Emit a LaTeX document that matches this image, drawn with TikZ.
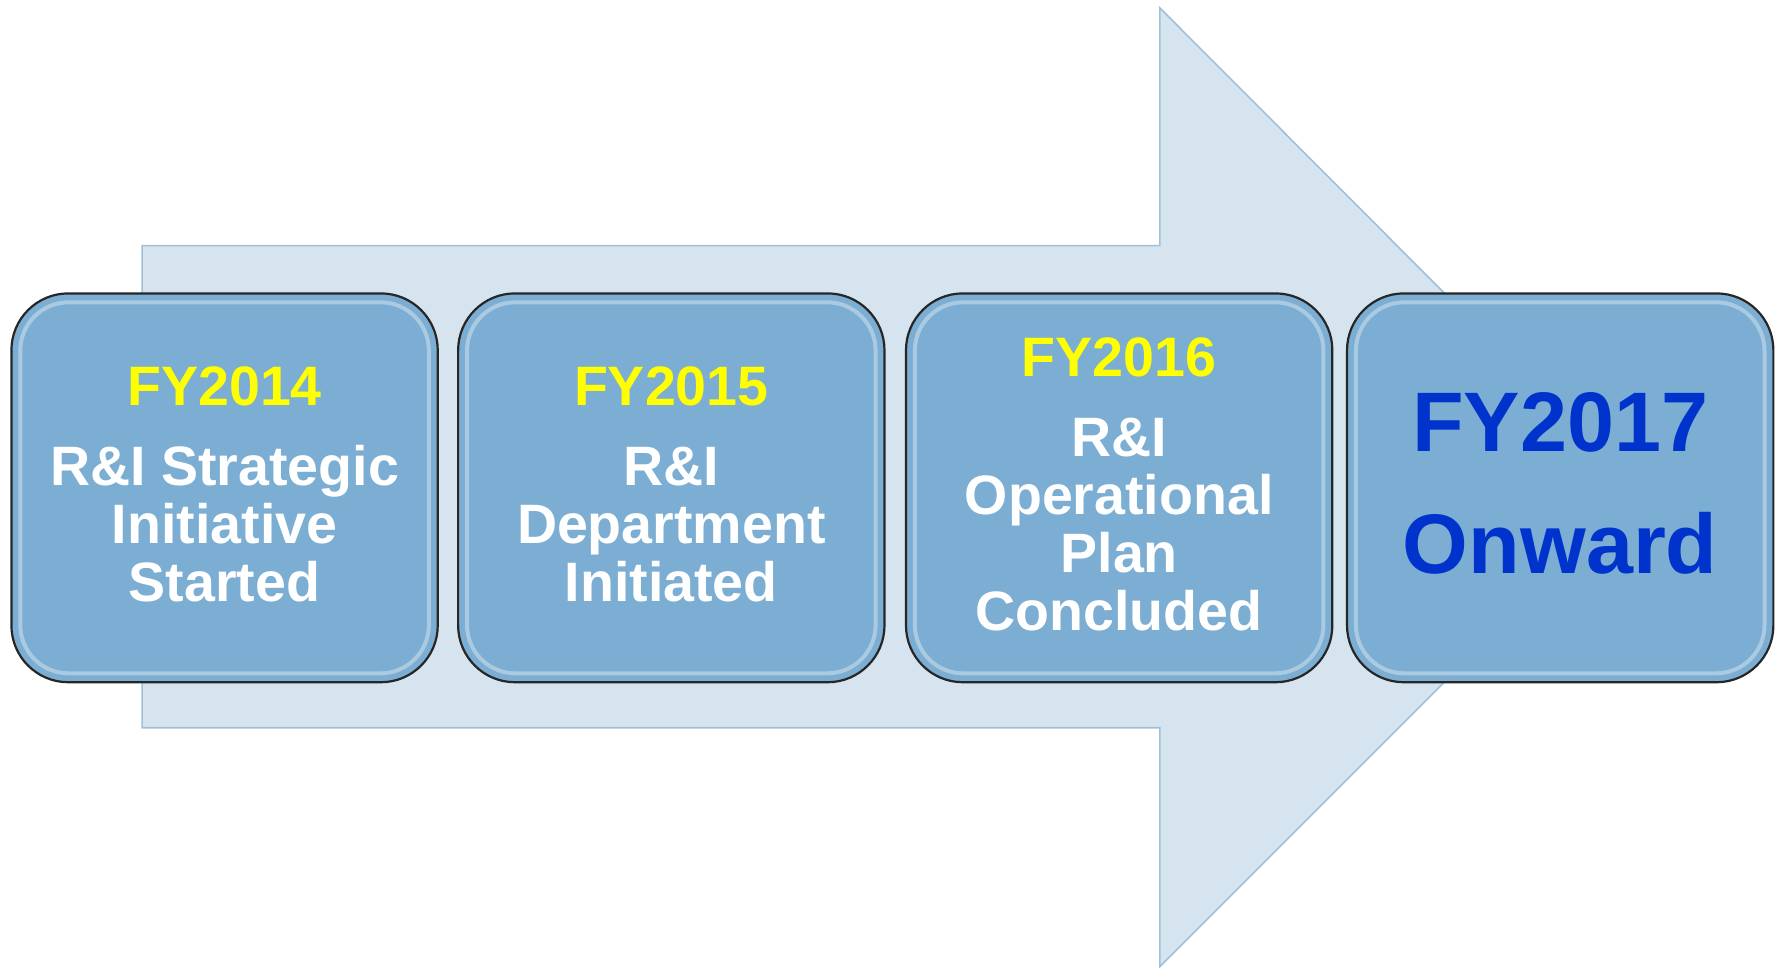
\documentclass[tikz,border=0pt]{standalone}
\usepackage{fontspec}
\setmainfont{Liberation Sans}
\usetikzlibrary{positioning}

\definecolor{arrowfill}{RGB}{214,228,240}
\definecolor{arrowline}{RGB}{160,192,218}
\definecolor{boxfill}{RGB}{123,174,210}
\definecolor{yearblue}{RGB}{0,51,204}
\definecolor{yearyellow}{RGB}{255,255,0}

\begin{document}
\begin{tikzpicture}[x=0.02cm, y=-0.02cm, node distance=0.32cm]
  \tikzset{stage/.style={draw=black!85, line width=1.1pt, fill=boxfill, rounded corners=1cm, minimum width=7.5cm, minimum height=6.84cm}}
  \tikzset{stagetext/.style={align=center, text=white, font=\bfseries\fontsize{27.8}{29}\selectfont}}
  \tikzset{rim/.style={draw=white, opacity=0.35, line width=2pt, rounded corners=0.85cm}}
  \tikzset{bigyear/.style={align=center, text=yearblue, font=\bfseries\fontsize{42.3}{61}\selectfont}}

  \useasboundingbox (0,0) rectangle (1568,851);

  % big arrow behind the stages
  \filldraw[fill=arrowfill, draw=arrowline, line width=0.8pt] (125,216) -- (1020,216) -- (1020,7) -- (1441,429) -- (1020,850) -- (1020,640) -- (125,640) -- cycle;

  \node[stage] (fy14) at (197.5,429) {};
  \node[stage] (fy15) [right=of fy14] {};
  \node[stage] (fy16) [right=0.34cm of fy15] {};
  \node[stage] (fy17) [right=0.22cm of fy16] {};

  % glossy inner rims
  \draw[rim] ([xshift=5pt,yshift=-5pt]fy14.north west) rectangle ([xshift=-5pt,yshift=5pt]fy14.south east);
  \draw[rim] ([xshift=5pt,yshift=-5pt]fy15.north west) rectangle ([xshift=-5pt,yshift=5pt]fy15.south east);
  \draw[rim] ([xshift=5pt,yshift=-5pt]fy16.north west) rectangle ([xshift=-5pt,yshift=5pt]fy16.south east);
  \draw[rim] ([xshift=5pt,yshift=-5pt]fy17.north west) rectangle ([xshift=-5pt,yshift=5pt]fy17.south east);

  \node[stagetext] (t14) at ([yshift=0.06cm]fy14.center) {{\color{yearyellow}FY2014}\\[0.38cm]R\&I Strategic\\Initiative\\Started};
  \node[stagetext] (t15) at ([yshift=0.06cm]fy15.center) {{\color{yearyellow}FY2015}\\[0.38cm]R\&I\\Department\\Initiated};
  \node[stagetext] (t16) at ([yshift=0.06cm]fy16.center) {{\color{yearyellow}FY2016}\\[0.38cm]R\&I\\Operational\\Plan\\Concluded};
  \node[bigyear] (t17) at ([yshift=0.08cm]fy17.center) {FY2017\\Onward};
\end{tikzpicture}
\end{document}
